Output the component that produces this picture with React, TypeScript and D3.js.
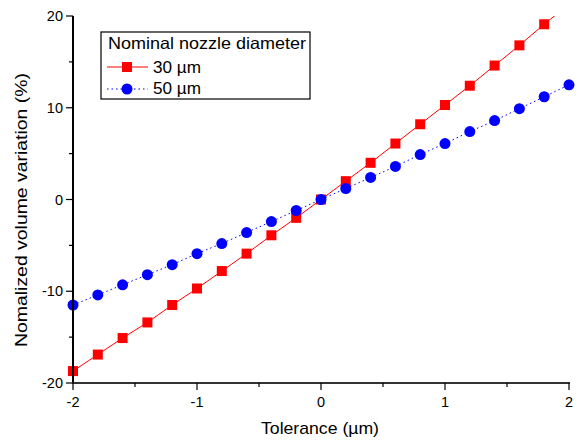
import React from "react";
import * as d3 from "d3";

const tolerance = [-2, -1.8, -1.6, -1.4, -1.2, -1, -0.8, -0.6, -0.4, -0.2, 0, 0.2, 0.4, 0.6, 0.8, 1, 1.2, 1.4, 1.6, 1.8, 2];
const nozzle30 = [-18.7, -16.9, -15.1, -13.4, -11.5, -9.7, -7.8, -5.9, -3.9, -2.0, 0, 2.0, 4.0, 6.1, 8.2, 10.3, 12.4, 14.6, 16.8, 19.1, 21.3];
const nozzle50 = [-11.5, -10.4, -9.3, -8.2, -7.1, -5.9, -4.8, -3.6, -2.4, -1.2, 0, 1.2, 2.4, 3.6, 4.9, 6.1, 7.4, 8.6, 9.9, 11.2, 12.5];
const xTicks = [-2, -1, 0, 1, 2];
const xMinor = [-1.5, -0.5, 0.5, 1.5];
const yTicks = [-20, -10, 0, 10, 20];
const yMinor = [-15, -5, 5, 15];

const W = 578;
const H = 442;
const m = { left: 73, right: 9, top: 16, bottom: 59 };

export default function App() {
  const x = d3.scaleLinear().domain([-2, 2]).range([m.left, W - m.right]);
  const y = d3.scaleLinear().domain([-20, 20]).range([H - m.bottom, m.top]);

  const pts30 = tolerance.map((t, i) => [t, nozzle30[i]] as [number, number]);
  const pts50 = tolerance.map((t, i) => [t, nozzle50[i]] as [number, number]);
  const ln = d3.line<[number, number]>().x(d => x(d[0])).y(d => y(d[1]));
  const inside = (d: [number, number]) => d[1] <= 20 && d[1] >= -20;

  const font = "Liberation Sans, Arial, sans-serif";
  const x0 = m.left, y0 = H - m.bottom;

  return (
    <div style={{ position: "absolute", left: 0, top: 0 }}>
      <svg width={W} height={H} style={{ display: "block", background: "#fff" }} fontFamily={font}>
        <defs>
          <clipPath id="plot">
            <rect x={m.left} y={m.top} width={W - m.left - m.right} height={H - m.top - m.bottom} />
          </clipPath>
        </defs>
        <g clipPath="url(#plot)">
          <path d={ln(pts30) || ""} fill="none" stroke="#ff0000" strokeWidth={1} />
          <path d={ln(pts50) || ""} fill="none" stroke="#0000ff" strokeWidth={1} strokeDasharray="1.5,3" />
        </g>
        {pts30.filter(inside).map((d, i) => (
          <rect key={"s" + i} x={x(d[0]) - 5} y={y(d[1]) - 5} width={10} height={10} fill="#ff0000" />
        ))}
        {pts50.filter(inside).map((d, i) => (
          <circle key={"c" + i} cx={x(d[0])} cy={y(d[1])} r={5.5} fill="#0000ff" />
        ))}

        {/* axes */}
        <line x1={x0} x2={x0} y1={m.top} y2={y0 + 1} stroke="#000" strokeWidth={2} />
        <line x1={x0 - 1} x2={W - m.right + 1} y1={y0} y2={y0} stroke="#333" strokeWidth={2} />
        {yTicks.map(t => (
          <g key={"yt" + t}>
            <line x1={x0 - 7} x2={x0} y1={y(t)} y2={y(t)} stroke="#000" strokeWidth={1.2} />
            <text x={x0 - 10} y={y(t)} dy="0.35em" textAnchor="end" fontSize={14.5}>{t}</text>
          </g>
        ))}
        {yMinor.map(t => (
          <line key={"ym" + t} x1={x0 - 4} x2={x0} y1={y(t)} y2={y(t)} stroke="#000" strokeWidth={1.2} />
        ))}
        {xTicks.map(t => (
          <g key={"xt" + t}>
            <line x1={x(t)} x2={x(t)} y1={y0} y2={y0 + 7} stroke="#000" strokeWidth={1.2} />
            <text x={x(t)} y={407} textAnchor="middle" fontSize={14.5}>{t}</text>
          </g>
        ))}
        {xMinor.map(t => (
          <line key={"xm" + t} x1={x(t)} x2={x(t)} y1={y0} y2={y0 + 4} stroke="#000" strokeWidth={1.2} />
        ))}

        <text x={320} y={434} textAnchor="middle" fontSize={17} textLength={118} lengthAdjust="spacingAndGlyphs">
          Tolerance (µm)
        </text>
        <text transform="translate(27,210) rotate(-90)" textAnchor="middle" fontSize={17}
          textLength={274} lengthAdjust="spacingAndGlyphs">
          Nomalized volume variation (%)
        </text>

        {/* legend */}
        <rect x={101} y={32} width={209} height={67} fill="#fff" stroke="#000" strokeWidth={1.2} />
        <text x={108} y={49} fontSize={16.5} textLength={198} lengthAdjust="spacingAndGlyphs">Nominal nozzle diameter</text>
        <line x1={107} x2={148} y1={67} y2={67} stroke="#ff0000" strokeWidth={1} />
        <rect x={122} y={62} width={10} height={10} fill="#ff0000" />
        <text x={153} y={73} fontSize={16.5} textLength={48} lengthAdjust="spacingAndGlyphs">30 µm</text>
        <line x1={107} x2={148} y1={89} y2={89} stroke="#0000ff" strokeWidth={1} strokeDasharray="1.5,3" />
        <circle cx={127} cy={89} r={5.5} fill="#0000ff" />
        <text x={153} y={94} fontSize={16.5} textLength={48} lengthAdjust="spacingAndGlyphs">50 µm</text>
      </svg>
    </div>
  );
}
